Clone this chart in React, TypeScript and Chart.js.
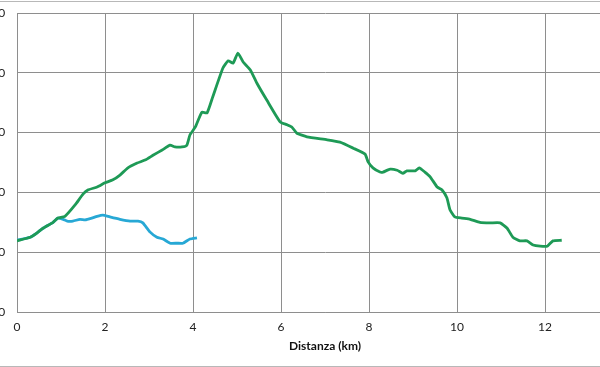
import React, { useEffect, useRef } from "react";
import { Chart, registerables } from "chart.js";

Chart.register(...registerables);

const greenX = [0, 0.3, 0.45, 0.59, 0.82, 0.93, 1.09, 1.32, 1.5, 1.61, 1.82, 2.0, 2.18, 2.34, 2.52, 2.73, 2.91, 3.09, 3.3, 3.48, 3.59, 3.75, 3.86, 3.93, 4.05, 4.2, 4.32, 4.45, 4.68, 4.8, 4.91, 5.02, 5.14, 5.3, 5.45, 5.68, 5.98, 6.14, 6.25, 6.36, 6.59, 7.05, 7.34, 7.64, 7.91, 7.98, 8.09, 8.25, 8.32, 8.48, 8.64, 8.77, 8.86, 9.05, 9.14, 9.27, 9.39, 9.55, 9.66, 9.77, 9.84, 9.95, 10.11, 10.3, 10.52, 10.75, 10.98, 11.14, 11.27, 11.43, 11.59, 11.73, 11.89, 12.05, 12.18, 12.38];
const greenY = [119, 125, 132, 140, 150, 157, 160, 179, 197, 204, 209, 216, 221, 229, 241, 249, 254, 262, 271, 279, 276, 276, 279, 296, 309, 334, 333, 360, 408, 420, 416, 433, 418, 405, 383, 354, 318, 313, 309, 299, 293, 288, 284, 274, 264, 251, 241, 234, 234, 239, 237, 232, 236, 236, 241, 234, 226, 209, 204, 191, 171, 159, 157, 155, 150, 149, 149, 140, 125, 119, 119, 112, 110, 110, 119, 120];

const blueX = [0, 0.3, 0.45, 0.59, 0.82, 0.93, 1.05, 1.14, 1.27, 1.43, 1.55, 1.7, 1.82, 1.95, 2.11, 2.34, 2.57, 2.75, 2.86, 3.02, 3.18, 3.32, 3.48, 3.64, 3.77, 3.93, 4.09];
const blueY = [120, 125, 132, 140, 150, 157, 155, 152, 152, 155, 154, 157, 160, 162, 159, 155, 152, 152, 149, 134, 125, 122, 115, 115, 115, 122, 124];

const xTicks = [0, 2, 4, 6, 8, 10, 12, 14];
const yTicks = [0, 100, 200, 300, 400, 500];
const xTitle = "Distanza (km)";

export default function App() {
  const ref = useRef<HTMLCanvasElement | null>(null);
  useEffect(() => {
    if (!ref.current) return;
    const grid = "#8e8e8e";
    const chart = new Chart(ref.current, {
      type: "line",
      data: {
        datasets: [
          {
            label: "Percorso lungo",
            data: greenX.map((x, i) => ({ x, y: greenY[i] })),
            borderColor: "#1e9a56",
            borderWidth: 2.8,
            pointRadius: 0,
            tension: 0.15,
          },
          {
            label: "Percorso corto",
            data: blueX.map((x, i) => ({ x, y: blueY[i] })),
            borderColor: "#27a8d5",
            borderWidth: 2.8,
            pointRadius: 0,
            tension: 0.15,
          },
        ],
      },
      options: {
        animation: false,
        responsive: false,
        layout: { padding: { top: 0, left: 0, right: 67, bottom: 0 } },
        plugins: { legend: { display: false }, tooltip: { enabled: false } },
        scales: {
          x: {
            type: "linear",
            min: xTicks[0],
            max: xTicks[xTicks.length - 1],
            afterBuildTicks: (s: any) => {
              s.ticks = xTicks.map((v) => ({ value: v }));
            },
            afterFit: (s: any) => {
              s.height = 53;
            },
            grid: { color: grid, drawTicks: false, lineWidth: 1 },
            border: { color: grid },
            ticks: {
              padding: 8,
              color: "#222",
              font: { family: "Lato", size: 12 },
            },
            title: {
              display: true,
              text: xTitle,
              color: "#111",
              font: { family: "Lato", size: 12, weight: "bold" },
              padding: { top: 0, bottom: 12 },
            },
          },
          y: {
            type: "linear",
            min: yTicks[0],
            max: yTicks[yTicks.length - 1],
            afterBuildTicks: (s: any) => {
              s.ticks = yTicks.map((v) => ({ value: v }));
            },
            afterFit: (s: any) => {
              s.width = 57;
            },
            grid: { color: grid, drawTicks: false, lineWidth: 1 },
            border: { color: grid },
            ticks: {
              padding: 11.8,
              color: "#222",
              font: { family: "Lato", size: 12 },
            },
          },
        },
      },
    } as any);
    return () => chart.destroy();
  }, []);

  return (
    <div
      style={{
        position: "fixed",
        left: 0,
        top: 0,
        width: 600,
        height: 367,
        overflow: "hidden",
        background: "#fff",
      }}
    >
      <canvas
        ref={ref}
        width={740}
        height={371}
        style={{ position: "absolute", left: -40, top: -6, width: 740, height: 371 }}
      />
      <div
        style={{
          position: "absolute",
          left: -60,
          top: 1,
          width: 760,
          height: 366,
          boxSizing: "border-box",
          border: "1px solid #b8b8b8",
          pointerEvents: "none",
        }}
      />
    </div>
  );
}
